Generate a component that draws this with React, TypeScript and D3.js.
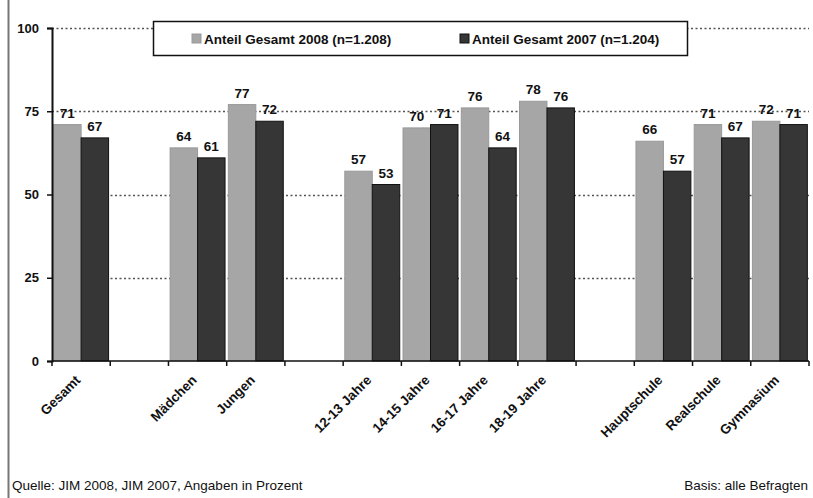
import React, { useEffect, useRef } from "react";
import * as d3 from "d3";

// categories in display order, "" = empty slot between groups
const slots = ["Gesamt", "", "Mädchen", "Jungen", "", "12-13 Jahre", "14-15 Jahre", "16-17 Jahre", "18-19 Jahre", "", "Hauptschule", "Realschule", "Gymnasium"];
const categories = slots.filter((s) => s !== "");
const values2008 = [71, 64, 77, 57, 70, 76, 78, 66, 71, 72];
const values2007 = [67, 61, 72, 53, 71, 64, 76, 57, 67, 71];
const seriesNames = ["Anteil Gesamt 2008 (n=1.208)", "Anteil Gesamt 2007 (n=1.204)"];
const yTicks = [0, 25, 50, 75, 100];

const colors = ["#a6a6a6", "#363636"];
const font = "'Liberation Sans', Arial, sans-serif";

export default function App() {
  const ref = useRef<SVGSVGElement>(null);

  useEffect(() => {
    const svg = d3.select(ref.current);
    svg.selectAll("*").remove();

    const left = 52, right = 809, top = 28, bottom = 361;

    // slot keys must be unique for the band scale
    const keys = slots.map((s, i) => (s === "" ? `gap${i}` : s));
    const x = d3.scaleBand().domain(keys).range([left, right]).paddingInner(0).paddingOuter(0);
    const y = d3.scaleLinear().domain([0, 100]).range([bottom, top]);
    const sub = d3.scaleBand().domain(["0", "1"]).range([0, x.bandwidth()]).paddingOuter(0.06).paddingInner(0);

    // frame line at left edge
    svg.append("line").attr("x1", 8.5).attr("x2", 8.5).attr("y1", 0).attr("y2", 498)
      .attr("stroke", "#777").attr("stroke-width", 2);

    // dotted grid lines
    svg.selectAll(".grid").data(yTicks.filter((t) => t > 0)).join("line")
      .attr("x1", left).attr("x2", right)
      .attr("y1", (d) => Math.round(y(d)) + 0.5).attr("y2", (d) => Math.round(y(d)) + 0.5)
      .attr("stroke", "#555").attr("stroke-width", 1.5).attr("stroke-dasharray", "2,2.5");

    // bars
    const data = categories.map((c, i) => ({ c, v: [values2008[i], values2007[i]] }));
    const groups = svg.selectAll(".grp").data(data).join("g")
      .attr("transform", (d) => `translate(${x(d.c)},0)`);
    [0, 1].forEach((s) => {
      groups.append("rect")
        .attr("x", sub(String(s))!)
        .attr("y", (d) => y(d.v[s]))
        .attr("width", sub.bandwidth())
        .attr("height", (d) => y(0) - y(d.v[s]))
        .attr("fill", colors[s])
        .attr("stroke", s === 0 ? "#999" : "#111")
        .attr("stroke-width", 1);
      groups.append("text")
        .attr("x", sub(String(s))! + sub.bandwidth() / 2)
        .attr("y", (d) => y(d.v[s]) - 7)
        .attr("text-anchor", "middle")
        .attr("font-family", font).attr("font-weight", "bold").attr("font-size", 13.5)
        .attr("fill", "#111")
        .text((d) => d.v[s]);
    });

    // y axis
    const yAxis = svg.append("g").attr("transform", `translate(${left},0)`)
      .call(d3.axisLeft(y).tickValues(yTicks).tickSize(5).tickPadding(8));
    yAxis.select(".domain").attr("stroke", "#111").attr("stroke-width", 2);
    yAxis.selectAll(".tick line").attr("stroke", "#111").attr("stroke-width", 1.5);
    yAxis.selectAll("text").attr("font-family", font).attr("font-weight", "bold")
      .attr("font-size", 13).attr("fill", "#111");

    // x axis with ticks at slot boundaries
    const xg = svg.append("g");
    xg.append("line").attr("x1", left).attr("x2", right).attr("y1", bottom).attr("y2", bottom)
      .attr("stroke", "#111").attr("stroke-width", 1.5);
    xg.selectAll(".xt").data(keys.concat(["end"])).join("line")
      .attr("x1", (d, i) => left + i * x.step()).attr("x2", (d, i) => left + i * x.step())
      .attr("y1", bottom).attr("y2", bottom + 5)
      .attr("stroke", "#111").attr("stroke-width", 1.5);
    xg.selectAll(".xl").data(categories).join("text")
      .attr("transform", (d) => `translate(${x(d)! + x.bandwidth() / 2},${bottom + 20}) rotate(-45)`)
      .attr("text-anchor", "end")
      .attr("font-family", font).attr("font-weight", "bold").attr("font-size", 13.5)
      .attr("fill", "#111")
      .text((d) => d);

    // legend
    const lg = svg.append("g");
    lg.append("rect").attr("x", 153.5).attr("y", 21.5).attr("width", 534).attr("height", 34)
      .attr("fill", "#fff").attr("stroke", "#111").attr("stroke-width", 1.5);
    const legX = [192, 460];
    seriesNames.forEach((n, i) => {
      lg.append("rect").attr("x", legX[i]).attr("y", 34).attr("width", 9).attr("height", 9)
        .attr("fill", colors[i]).attr("stroke", i === 0 ? "#999" : "#111");
      lg.append("text").attr("x", legX[i] + 12).attr("y", 43.5)
        .attr("font-family", font).attr("font-weight", "bold").attr("font-size", 13.5)
        .attr("fill", "#111").text(n);
    });

    // footer
    svg.append("text").attr("x", 12).attr("y", 490)
      .attr("font-family", font).attr("font-size", 13.5).attr("fill", "#111")
      .text("Quelle: JIM 2008, JIM 2007, Angaben in Prozent");
    svg.append("text").attr("x", 808).attr("y", 490).attr("text-anchor", "end")
      .attr("font-family", font).attr("font-size", 13.5).attr("fill", "#111")
      .text("Basis: alle Befragten");
  }, []);

  return (
    <svg ref={ref} width={813} height={498}
      style={{ position: "absolute", left: 0, top: 0, background: "#fff" }} />
  );
}
